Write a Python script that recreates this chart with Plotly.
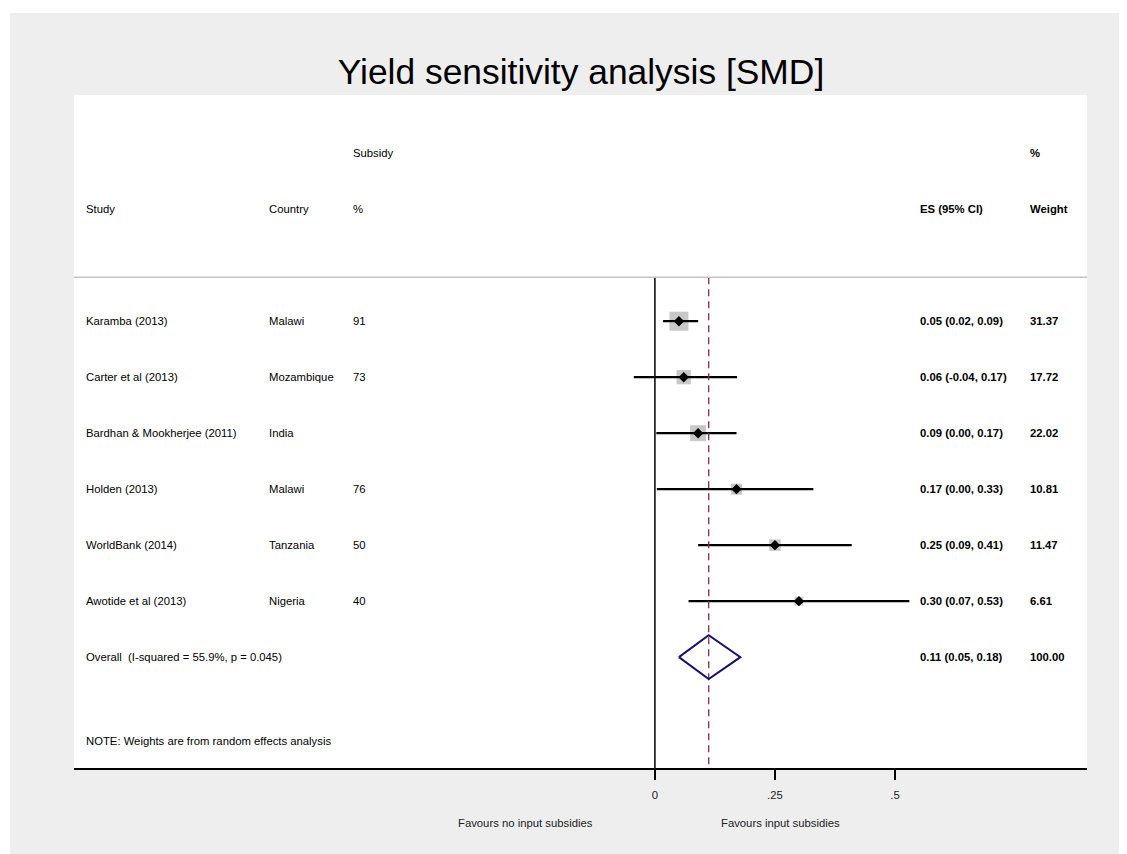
import plotly.graph_objects as go

# ---------------- data ----------------
studies = ["Karamba (2013)", "Carter et al (2013)", "Bardhan & Mookherjee (2011)",
           "Holden (2013)", "WorldBank (2014)", "Awotide et al (2013)"]
countries = ["Malawi", "Mozambique", "India", "Malawi", "Tanzania", "Nigeria"]
subsidy = ["91", "73", "", "76", "50", "40"]
es = [0.05, 0.06, 0.09, 0.17, 0.25, 0.30]
ci_lo = [0.017, -0.044, 0.003, 0.004, 0.09, 0.07]
ci_hi = [0.09, 0.171, 0.17, 0.33, 0.41, 0.53]
es_text = ["0.05 (0.02, 0.09)", "0.06 (-0.04, 0.17)", "0.09 (0.00, 0.17)",
           "0.17 (0.00, 0.33)", "0.25 (0.09, 0.41)", "0.30 (0.07, 0.53)"]
weights = [31.37, 17.72, 22.02, 10.81, 11.47, 6.61]
weight_text = ["31.37", "17.72", "22.02", "10.81", "11.47", "6.61"]

overall_label = "Overall  (I-squared = 55.9%, p = 0.045)"
overall_es = 0.112
overall_lo = 0.05
overall_hi = 0.178
overall_text = "0.11 (0.05, 0.18)"
overall_weight = "100.00"
note = "NOTE: Weights are from random effects analysis"

tick_vals = [0, 0.25, 0.5]
tick_text = ["0", ".25", ".5"]
title = "Yield sensitivity analysis [SMD]"
fav_left = "Favours no input subsidies"
fav_right = "Favours input subsidies"

# ---------------- layout constants ----------------
OFF = 8                      # page body margin
W, H = 1127 - OFF, 854 - OFF
ML = 74 - OFF
MT = 95 - OFF
MR = W - (1087 - OFF)
MB = H - (768 - OFF)
PW = W - ML - MR
PH = H - MT - MB
XR = [-1.21, 0.9]
YR = [7.98, -4.04]
SEP = -0.786
rows = list(range(len(studies)))
overall_row = len(studies)

FONT = "Liberation Sans, Arial, sans-serif"
FS = 11.3
GRAY_BG = "#eeeeee"

fig = go.Figure()

# weight squares (area proportional to weight)
max_w = max(weights)
sizes = [19 * (w / max_w) ** 0.5 for w in weights]
fig.add_trace(go.Scatter(x=es, y=rows, mode="markers",
                         marker=dict(symbol="square", size=sizes, color="#b0b0b0",
                                     line=dict(width=0)),
                         hoverinfo="skip", showlegend=False))

# CI lines
cx, cy = [], []
for lo, hi, r in zip(ci_lo, ci_hi, rows):
    cx += [lo, hi, None]
    cy += [r, r, None]
fig.add_trace(go.Scatter(x=cx, y=cy, mode="lines", line=dict(color="black", width=2.2),
                         hoverinfo="skip", showlegend=False))

# point estimates
fig.add_trace(go.Scatter(x=es, y=rows, mode="markers",
                         marker=dict(symbol="diamond", size=8, color="black"),
                         hoverinfo="skip", showlegend=False))

# no-effect line at 0
fig.add_trace(go.Scatter(x=[0, 0], y=[SEP, YR[0]], mode="lines",
                         line=dict(color="black", width=1.5),
                         hoverinfo="skip", showlegend=False))

# overall effect dashed line
fig.add_trace(go.Scatter(x=[overall_es, overall_es], y=[SEP, YR[0]], mode="lines",
                         line=dict(color="#8b2d3a", width=1.3, dash="7px,5px"),
                         hoverinfo="skip", showlegend=False))

# overall diamond
hh = 0.39
fig.add_trace(go.Scatter(x=[overall_lo, overall_es, overall_hi, overall_es, overall_lo],
                         y=[overall_row, overall_row - hh, overall_row, overall_row + hh, overall_row],
                         mode="lines", line=dict(color="#14146e", width=2),
                         hoverinfo="skip", showlegend=False))

# ---------------- table text ----------------
col_study, col_country, col_sub, col_es, col_w = -1.19, -0.808, -0.633, 0.548, 0.777
ann = []

def txt(x, y, t, bold=False):
    ann.append(dict(x=x, y=y, xref="x", yref="y", text=f"<b>{t}</b>" if bold else t,
                    showarrow=False, xanchor="left", yanchor="middle",
                    font=dict(family=FONT, size=FS, color="black")))

txt(col_sub, -3, "Subsidy")
txt(col_w, -3, "%", True)
txt(col_study, -2, "Study")
txt(col_country, -2, "Country")
txt(col_sub, -2, "%")
txt(col_es, -2, "ES (95% CI)", True)
txt(col_w, -2, "Weight", True)

for r, s, c, p, e, w in zip(rows, studies, countries, subsidy, es_text, weight_text):
    txt(col_study, r, s)
    txt(col_country, r, c)
    if p:
        txt(col_sub, r, p)
    txt(col_es, r, e, True)
    txt(col_w, r, w, True)

txt(col_study, overall_row, overall_label)
txt(col_es, overall_row, overall_text, True)
txt(col_w, overall_row, overall_weight, True)
txt(col_study, 7.5, note)

# favours labels
for xv, t in [(-0.269, fav_left), (0.2625, fav_right)]:
    ann.append(dict(x=xv, y=(768 - 823) / PH, xref="x", yref="paper", text=t,
                    showarrow=False, xanchor="center", yanchor="middle",
                    font=dict(family=FONT, size=FS, color="#222222")))

shapes = [
    # header separator
    dict(type="line", xref="paper", yref="y", x0=0, x1=1, y0=SEP, y1=SEP,
         line=dict(color="#c4c4c4", width=1.5)),
    # white image border top/left
    dict(type="rect", xref="paper", yref="paper", x0=-ML / PW, x1=(W - ML) / PW,
         y0=1 + (MT - (13 - OFF)) / PH, y1=1 + MT / PH, fillcolor="white",
         line=dict(width=0), layer="below"),
    dict(type="rect", xref="paper", yref="paper", x0=-ML / PW, x1=((10 - OFF) - ML) / PW,
         y0=-MB / PH, y1=1 + MT / PH, fillcolor="white", line=dict(width=0),
         layer="below"),
]

fig.update_layout(
    width=W, height=H,
    margin=dict(l=ML, r=MR, t=MT, b=MB),
    paper_bgcolor=GRAY_BG, plot_bgcolor="white",
    title=dict(text=title, x=(581 - 74) / PW, xref="paper", xanchor="center",
               y=1 - (72 - OFF) / H, yref="container", yanchor="middle",
               font=dict(family=FONT, size=35.4, color="black")),
    xaxis=dict(range=XR, showgrid=False, zeroline=False, showline=True,
               linecolor="black", linewidth=1.6, ticks="outside", ticklen=10,
               tickwidth=1.5, tickcolor="black", tickvals=tick_vals, ticktext=tick_text,
               tickfont=dict(family=FONT, size=FS, color="#222222"),
               ticklabelstandoff=6),
    yaxis=dict(range=YR, visible=False, showgrid=False, zeroline=False),
    annotations=ann, shapes=shapes, showlegend=False,
)

fig.write_html("out.html")
